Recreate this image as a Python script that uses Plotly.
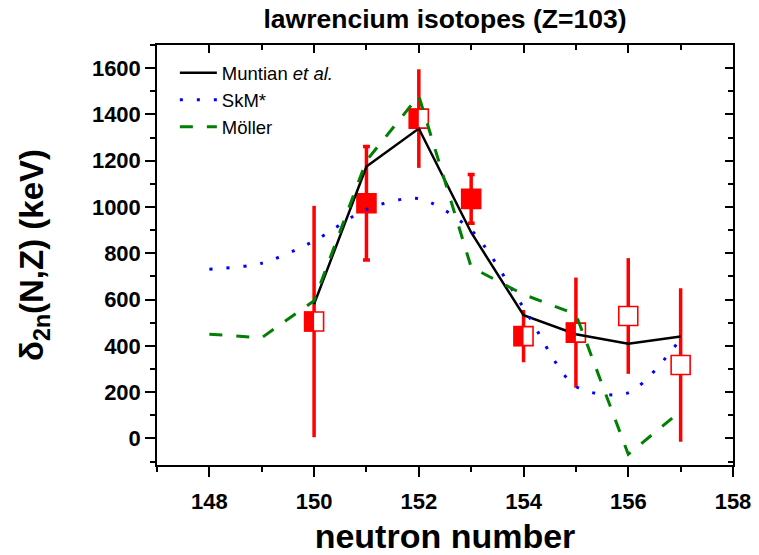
import plotly.graph_objects as go

# ---------------- data ----------------
muntian_n = [150, 151, 152, 153, 154, 155, 156, 157]
muntian_val = [580, 1175, 1339, 890, 532, 450, 409, 440]

skm_n = [148, 149, 150, 151, 152, 153, 154, 155, 156, 157]
skm_val = [731, 757, 853, 990, 1036, 900, 565, 224, 197, 430]

moller_n = [148, 149, 150, 151, 152, 153, 154, 155, 156, 157]
moller_val = [450, 435, 595, 1200, 1480, 740, 622, 536, -69, 118]

exp_n = [150, 151, 152, 153, 154, 155, 156, 157]
exp_val = [505, 1016, 1382, 1035, 442, 457, 529, 317]
exp_err = [500, 245, 213, 105, 113, 238, 250, 332]
exp_kind = ["half", "full", "half", "full", "half", "half", "open", "open"]

x_ticks = [148, 150, 152, 154, 156, 158]
y_ticks = [0, 200, 400, 600, 800, 1000, 1200, 1400, 1600]

# ---------------- styling ----------------
W, H = 759, 555
ML, MR, MT, MB = 157, 26, 45, 90
XR = [147, 158]
YR = [-115, 1700]
RED = "#ff0000"
FONT = "Liberation Sans, Arial, sans-serif"
SQ = 20  # square marker size in px

px_per_x = (W - ML - MR) / (XR[1] - XR[0])
px_per_y = (H - MT - MB) / (YR[1] - YR[0])
half_w = (SQ / 2) / px_per_x
half_h = (SQ / 2) / px_per_y

fig = go.Figure()

# experimental points: error bars + squares
cap_idx = [i for i, k in enumerate(exp_kind) if k == "full"]
nocap_idx = [i for i, k in enumerate(exp_kind) if k != "full"]
for idx, capw in ((nocap_idx, 0), (cap_idx, 3.5)):
    fig.add_trace(go.Scatter(
        x=[exp_n[i] for i in idx], y=[exp_val[i] for i in idx],
        mode="markers",
        marker=dict(symbol="square", size=SQ - 1,
                    color=[RED if exp_kind[i] == "full" else "white" for i in idx],
                    line=dict(color=RED, width=1.6)),
        error_y=dict(type="data", array=[exp_err[i] for i in idx], visible=True,
                     color=RED, thickness=3.5, width=capw),
        showlegend=False, hoverinfo="skip"))

# theory curves
fig.add_trace(go.Scatter(x=muntian_n, y=muntian_val, mode="lines",
                         name="Muntian <i>et al.</i>",
                         line=dict(color="black", width=2.5)))
fig.add_trace(go.Scatter(x=skm_n, y=skm_val, mode="lines", name="SkM*",
                         line=dict(color="#0000ff", width=3, dash="3px,14px",
                                   shape="spline", smoothing=0.8)))
fig.add_trace(go.Scatter(x=moller_n, y=moller_val, mode="lines", name="Möller",
                         line=dict(color="#008000", width=3, dash="13px,14px")))

# dummy trace for mirrored inner-tick axes
fig.add_trace(go.Scatter(x=[], y=[], xaxis="x2", yaxis="y2", showlegend=False))

# left halves of half-filled squares
shapes = []
for n, v, k in zip(exp_n, exp_val, exp_kind):
    if k == "half":
        shapes.append(dict(type="rect", xref="x", yref="y", layer="above",
                           x0=n - half_w, x1=n, y0=v - half_h, y1=v + half_h,
                           fillcolor=RED, line=dict(width=0)))

axis_common = dict(showgrid=False, zeroline=False, tickcolor="black", tickwidth=1.5,
                   automargin=False)

fig.update_layout(
    width=W, height=H,
    margin=dict(l=ML, r=MR, t=MT, b=MB, pad=0, autoexpand=False),
    paper_bgcolor="white", plot_bgcolor="white",
    font=dict(family=FONT, color="black"),
    title=dict(text="<b>lawrencium isotopes (Z=103)</b>", x=(ML + (W - ML - MR) / 2) / W,
               xanchor="center", y=1 - 19 / H, yanchor="middle",
               font=dict(family=FONT, size=26.5, color="black")),
    shapes=shapes,
    showlegend=True,
    legend=dict(x=0.031, y=0.978, xanchor="left", yanchor="top",
                bgcolor="rgba(0,0,0,0)", borderwidth=0,
                font=dict(family=FONT, size=18.5, color="black"),
                itemwidth=37, tracegroupgap=0),
    xaxis=dict(range=XR, tickmode="array", tickvals=x_ticks,
               ticks="outside", ticklen=10, mirror=True, showline=True,
               linecolor="black", linewidth=1.5, ticklabelstandoff=6,
               minor=dict(dtick=1, tick0=147, ticks="outside", ticklen=5,
                          tickcolor="black", tickwidth=1.5),
               tickfont=dict(family=FONT, size=22, weight="bold"),
               title=dict(text="<b>neutron number</b>", standoff=17,
                          font=dict(family=FONT, size=34)),
               **axis_common),
    yaxis=dict(range=YR, tickmode="array", tickvals=y_ticks,
               ticks="outside", ticklen=10, mirror=True, showline=True,
               linecolor="black", linewidth=1.5,
               minor=dict(dtick=100, tick0=0, ticks="outside", ticklen=5,
                          tickcolor="black", tickwidth=1.5),
               tickfont=dict(family=FONT, size=22, weight="bold"),
               title=dict(text="<b>δ<sub>2n</sub>(N,Z) (keV)</b>", standoff=38,
                          font=dict(family=FONT, size=33)),
               **axis_common),
    xaxis2=dict(range=XR, overlaying="x", side="top", anchor="y",
                tickmode="array", tickvals=x_ticks, ticks="inside", ticklen=8,
                showticklabels=False, showline=False,
                minor=dict(dtick=1, tick0=147, ticks="inside", ticklen=5,
                           tickcolor="black", tickwidth=1.5),
                **axis_common),
    yaxis2=dict(range=YR, overlaying="y", side="right", anchor="x",
                tickmode="array", tickvals=y_ticks, ticks="inside", ticklen=8,
                showticklabels=False, showline=False,
                minor=dict(dtick=100, tick0=0, ticks="inside", ticklen=5,
                           tickcolor="black", tickwidth=1.5),
                **axis_common),
)

fig.write_html("out.html")
